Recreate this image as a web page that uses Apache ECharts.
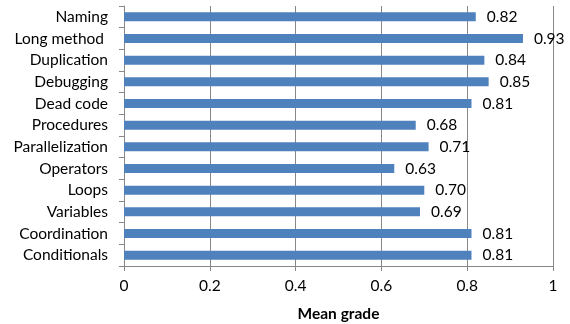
<!DOCTYPE html>
<html><head><meta charset="utf-8">
<script src="https://cdn.jsdelivr.net/npm/echarts@6/dist/echarts.min.js"></script>
<style>html,body{margin:0;padding:0;background:#fff}#c{width:570px;height:324px}</style>
</head><body><div id="c"></div>
<script>
var categories = ['Naming','Long method ','Duplication','Debugging','Dead code','Procedures','Parallelization','Operators','Loops','Variables','Coordination','Conditionals'];
var values = [0.82,0.93,0.84,0.85,0.81,0.68,0.71,0.63,0.70,0.69,0.81,0.81];
var xTicks = [0,0.2,0.4,0.6,0.8,1];
var chart = echarts.init(document.getElementById('c'));
var font = 'Lato';
chart.setOption({
  animation:false,
  grid:{left:124,right:17,top:6,bottom:58,containLabel:false,outerBoundsMode:'none'},
  xAxis:{type:'value',min:0,max:1,interval:0.2,
    name:'Mean grade',nameLocation:'middle',nameGap:40,
    nameTextStyle:{fontFamily:font,fontWeight:'bold',fontSize:15.5,color:'#000'},
    axisLine:{show:true,lineStyle:{color:'#888'}},
    axisTick:{show:true,length:5,lineStyle:{color:'#888'}},
    axisLabel:{fontFamily:font,fontSize:15.5,color:'#000',margin:12,formatter:function(v){return String(Math.round(v*10)/10);}},
    splitLine:{show:true,lineStyle:{color:'#888',width:1}}},
  yAxis:{type:'category',data:categories,inverse:true,
    axisLine:{show:true,lineStyle:{color:'#888'}},
    axisTick:{show:true,length:5,lineStyle:{color:'#888'}},
    axisLabel:{fontFamily:font,fontSize:15.5,color:'#000',margin:16},
    splitLine:{show:false}},
  series:[{type:'bar',data:values,barWidth:9,itemStyle:{color:'#4f81bd'},
    label:{show:true,position:'right',distance:11,fontFamily:font,fontSize:15.5,color:'#000',
      formatter:function(p){return p.value.toFixed(2);}}}]
});
</script></body></html>
